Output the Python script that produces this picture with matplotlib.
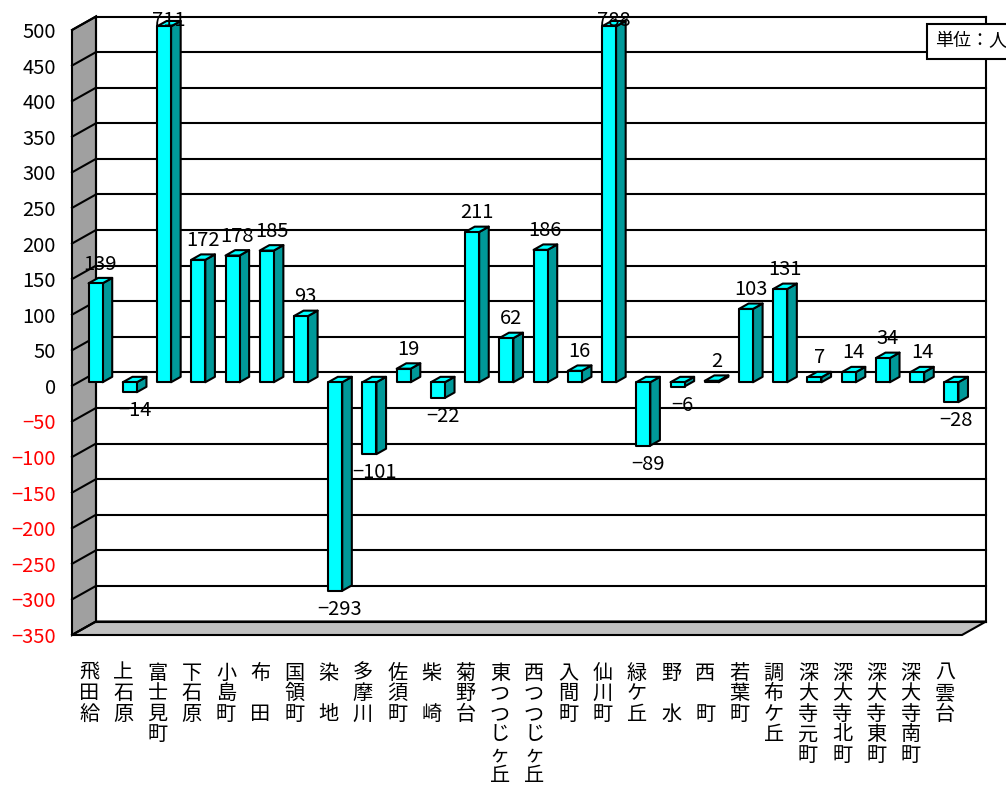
import matplotlib
matplotlib.use("Agg")
import matplotlib.pyplot as plt
from matplotlib.patches import Polygon

plt.rcParams['font.family'] = ['Noto Sans CJK JP', 'DejaVu Sans']

# ---- data ----
categories = ["飛田給", "上石原", "富士見町", "下石原", "小島町", "布田", "国領町", "染地",
              "多摩川", "佐須町", "柴崎", "菊野台", "東つつじヶ丘", "西つつじヶ丘", "入間町",
              "仙川町", "緑ケ丘", "野水", "西町", "若葉町", "調布ケ丘", "深大寺元町",
              "深大寺北町", "深大寺東町", "深大寺南町", "八雲台"]
values = [139, -14, 711, 172, 178, 185, 93, -293, -101, 19, -22, 211, 62, 186, 16,
          788, -89, -6, 2, 103, 131, 7, 14, 34, 14, -28]
yticks = list(range(-350, 501, 50))
unit_label = "単位：人"

YMIN, YMAX = -350, 500
N = len(categories)

# ---- layout (pixels) ----
W, H = 1006, 798
FL, FR, FT, FB = 72, 962, 30, 635   # front plane
DXP, DYP = 24, 13.5                 # wall depth offset in pixels
px_per_cat = (FR - FL) / N
px_per_val = (FB - FT) / (YMAX - YMIN)
DX = DXP / px_per_cat
DY = DYP / px_per_val
F0, FD = 0.27, 0.40                 # bar front depth fraction, bar depth fraction
BW = 0.41                           # bar width (category units)
FS = 14.5

fig = plt.figure(figsize=(W / 100, H / 100), dpi=100)
ax = fig.add_axes([FL / W, 1 - FB / H, (FR - FL) / W, (FB - FT) / H])
ax.set_xlim(-0.5, N - 0.5)
ax.set_ylim(YMIN, YMAX)
for s in ax.spines.values():
    s.set_visible(False)
ax.patch.set_visible(False)

LW = 1.5
xl, xr = -0.5, N - 0.5
# side wall
ax.add_patch(Polygon([(xl, YMIN), (xl + DX, YMIN + DY), (xl + DX, YMAX + DY), (xl, YMAX)],
                     closed=True, facecolor="#A0A0A0", edgecolor="black", lw=LW,
                     clip_on=False, zorder=1))
# floor
ax.add_patch(Polygon([(xl, YMIN), (xr, YMIN), (xr + DX, YMIN + DY), (xl + DX, YMIN + DY)],
                     closed=True, facecolor="#C0C0C0", edgecolor="black", lw=LW,
                     clip_on=False, zorder=1))
# gridlines on back wall and side wall
for v in yticks:
    ax.plot([xl + DX, xr + DX], [v + DY, v + DY], color="black", lw=LW, clip_on=False, zorder=1)
    ax.plot([xl, xl + DX], [v, v + DY], color="black", lw=LW, clip_on=False, zorder=1)
# back wall frame
ax.plot([xr + DX, xr + DX], [YMIN + DY, YMAX + DY], color="black", lw=LW, clip_on=False, zorder=1)
ax.plot([xl + DX, xl + DX], [YMIN + DY, YMAX + DY], color="black", lw=LW, clip_on=False, zorder=1)

# bars
front_c = "#00FFFF"
side_c = "#009999"
top_c = "#00FFFF"
for i, v in enumerate(values):
    vc = max(min(v, YMAX), YMIN)
    top = max(vc, 0)
    bot = min(vc, 0)
    sx, sy = F0 * DX, F0 * DY
    dx, dy = FD * DX, FD * DY
    x0 = i - BW / 2 + sx
    x1 = i + BW / 2 + sx
    yb, yt = bot + sy, top + sy
    z = 3 + i * 0.01
    ax.add_patch(Polygon([(x1, yb), (x1 + dx, yb + dy), (x1 + dx, yt + dy), (x1, yt)],
                         closed=True, facecolor=side_c, edgecolor="black", lw=LW,
                         clip_on=False, zorder=z, joinstyle="round"))
    ax.add_patch(Polygon([(x0, yt), (x1, yt), (x1 + dx, yt + dy), (x0 + dx, yt + dy)],
                         closed=True, facecolor=top_c, edgecolor="black", lw=LW,
                         clip_on=False, zorder=z, joinstyle="round"))
    ax.add_patch(Polygon([(x0, yb), (x1, yb), (x1, yt), (x0, yt)],
                         closed=True, facecolor=front_c, edgecolor="black", lw=LW,
                         clip_on=False, zorder=z, joinstyle="round"))
    # data label
    lx = i + sx + dx / 2
    txt = str(v).replace("-", "\u2212")
    if v > YMAX:
        off = 0
        ref_y = yt + dy
    elif v >= 0:
        off = 10
        ref_y = yt + dy
    else:
        off = -13.5
        ref_y = yb
    ax.annotate(txt, (lx, ref_y), xytext=(0, off), textcoords="offset points",
                ha="center", va="center", fontsize=FS, zorder=10, annotation_clip=False)

# y ticks
ax.set_yticks(yticks)
ax.set_yticklabels([str(t).replace("-", "\u2212") for t in yticks], fontsize=FS)
for t, lab in zip(yticks, ax.get_yticklabels()):
    lab.set_color("#FF0000" if t < 0 else "black")
ax.tick_params(axis="y", length=0, pad=11.5)


# x tick labels (vertical text)
def vlabel(s):
    if len(s) == 2:
        s = s[0] + "\u3000" + s[1]
    return "\n".join(s)


ax.set_xticks(range(N))
ax.set_xticklabels([vlabel(c) for c in categories], fontsize=14.5, linespacing=0.97, va="top")
ax.tick_params(axis="x", length=0, pad=20)

# unit label
fig.text(935 / W, 1 - 41.5 / H, unit_label, fontsize=13, ha="left", va="center",
         bbox=dict(boxstyle="square,pad=0.45", facecolor="white", edgecolor="black", lw=1.5),
         zorder=20)

fig.savefig("out.png", dpi=100)
